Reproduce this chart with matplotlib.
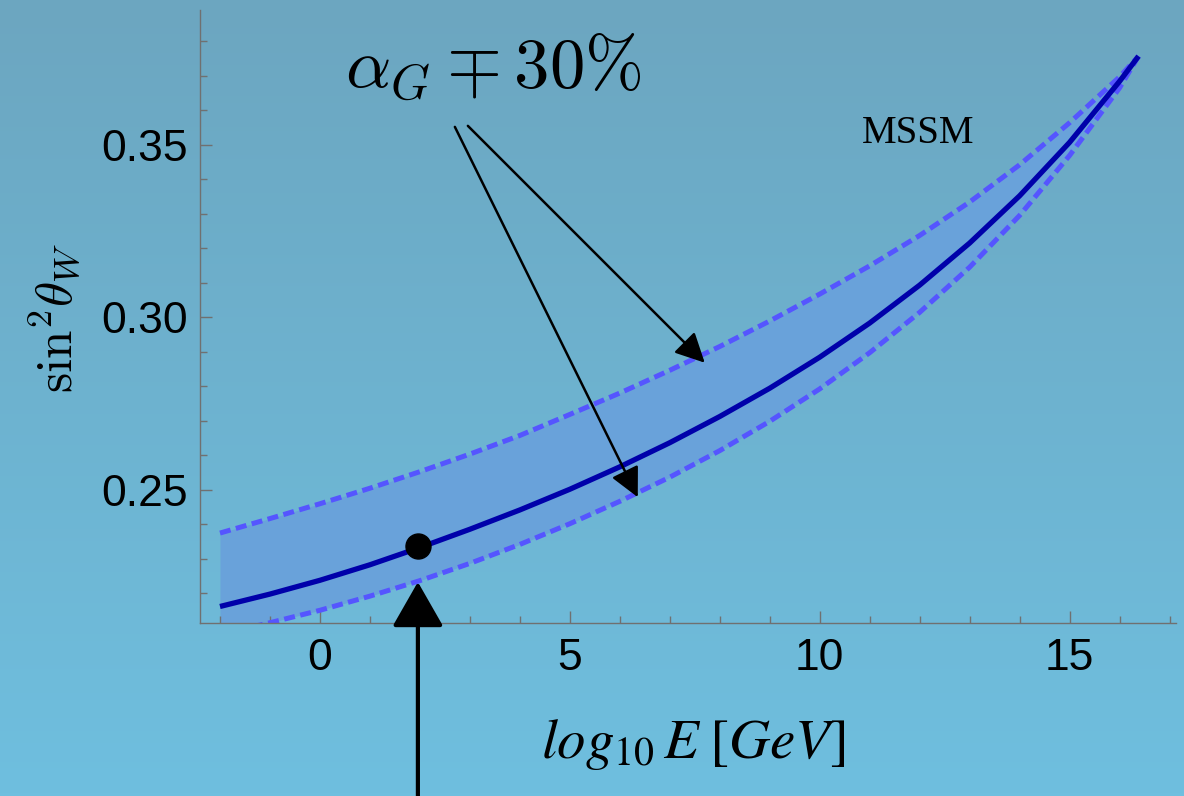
import matplotlib
matplotlib.use('Agg')
import matplotlib.pyplot as plt
import numpy as np
from matplotlib.patches import FancyArrowPatch

# values
log_e = [-2, -1, 0, 1, 2, 3, 4, 5, 6, 7, 8, 9, 10, 11, 12, 13, 14, 15, 16, 16.38]
sin2_mid = [0.2161, 0.2197, 0.2237, 0.2282, 0.2332, 0.2385, 0.2441, 0.2501, 0.2566, 0.2636,
            0.2712, 0.2794, 0.2884, 0.2983, 0.3093, 0.3215, 0.3352, 0.3507, 0.3684, 0.3757]
sin2_up = [0.2374, 0.2416, 0.2459, 0.2504, 0.2552, 0.2603, 0.2657, 0.2718, 0.2780, 0.2846,
           0.2915, 0.2989, 0.3067, 0.3149, 0.3237, 0.3334, 0.3442, 0.3564, 0.3697, 0.3757]
sin2_low = [0.2080, 0.2114, 0.2150, 0.2191, 0.2236, 0.2286, 0.2341, 0.2401, 0.2466, 0.2536,
            0.2613, 0.2698, 0.2792, 0.2897, 0.3014, 0.3145, 0.3295, 0.3469, 0.3665, 0.3757]
mz_point = (1.96, 0.2337)

x_major = [0, 5, 10, 15]
x_minor = list(range(-2, 18))
y_major = [0.25, 0.30, 0.35]
y_minor = [0.22, 0.23, 0.24, 0.26, 0.27, 0.28, 0.29, 0.31, 0.32, 0.33, 0.34, 0.36, 0.37, 0.38]

plt.rcParams['mathtext.fontset'] = 'cm'

fig = plt.figure(figsize=(11.84, 7.96), dpi=100)

# background gradient
bg = fig.add_axes([0, 0, 1, 1], zorder=-10)
top = np.array([108, 166, 192]) / 255
bot = np.array([111, 191, 223]) / 255
t = np.linspace(0, 1, 256)[:, None, None]
grad = top * (1 - t) + bot * t
bg.imshow(grad, aspect='auto', extent=[0, 1, 0, 1])
bg.set_axis_off()

ax = fig.add_axes([200 / 1184, 1 - 622.7 / 796, 976 / 1184, 612.7 / 796])
ax.set_facecolor('none')

ax.fill_between(log_e, sin2_low, sin2_up, color='#69a2da', lw=0, zorder=1)
ax.plot(log_e, sin2_up, color='#5555ff', lw=3.6, dashes=(2.2, 1.1), zorder=2)
ax.plot(log_e, sin2_low, color='#5555ff', lw=3.6, dashes=(2.2, 1.1), zorder=2)
ax.plot(log_e, sin2_mid, color='#0000aa', lw=3.8, zorder=3, solid_capstyle='butt')
ax.plot([mz_point[0]], [mz_point[1]], 'o', color='black', ms=18, zorder=5)

ax.set_xlim(-2.4, 17.13)
ax.set_ylim(0.2114, 0.3891)

for s in ['top', 'right']:
    ax.spines[s].set_visible(False)
for s in ['left', 'bottom']:
    ax.spines[s].set_color('#707070')
    ax.spines[s].set_linewidth(1.0)

ax.set_xticks(x_major)
ax.set_xticks(x_minor, minor=True)
ax.set_yticks(y_major)
ax.set_yticks(y_minor, minor=True)
ax.set_yticklabels(['%.2f' % v for v in y_major])
ax.tick_params(which='both', direction='in', color='#707070', width=1.0,
               labelsize=32, labelfontfamily='Liberation Sans')
ax.tick_params(which='major', length=8.4)
ax.tick_params(which='minor', length=4.8)
ax.tick_params(axis='y', pad=9)
ax.tick_params(axis='x', pad=11)

ax.set_ylabel(r'$\mathrm{sin}^2\theta_W$', fontsize=37, va='center')
ax.yaxis.set_label_coords(-0.1486, 0.497)
ax.set_xlabel(r'$log_{10}\,E\;[GeV]$', fontsize=41, va='center', math_fontfamily='stix')
ax.xaxis.set_label_coords(0.505, -0.1996)

ax.text(10.85, 0.3506, 'MSSM', fontsize=28, family='Liberation Serif',
        ha='left', va='baseline')
ax.text(0.50, 0.3665, r'$\alpha_G \mp 30\%$', fontsize=51, ha='left', va='baseline')

# hand drawn style arrows
arrows = [((2.96, 0.3555), (7.70, 0.2868), 18, 9, 1.8),
          ((2.70, 0.3552), (6.36, 0.2478), 18, 9, 1.8)]
for start, end, hl, hw, lw in arrows:
    a = FancyArrowPatch(start, end, arrowstyle='-|>,head_length=%g,head_width=%g' % (hl, hw),
                        mutation_scale=1, color='black', lw=lw, shrinkA=0, shrinkB=0, zorder=6)
    ax.add_patch(a)

up = FancyArrowPatch((1.96, 0.1612), (1.96, 0.2232),
                     arrowstyle='-|>,head_length=28,head_width=16',
                     mutation_scale=1, color='black', lw=3, shrinkA=0, shrinkB=0,
                     zorder=6, clip_on=False)
ax.add_patch(up)

fig.savefig('out.png', dpi=100)
